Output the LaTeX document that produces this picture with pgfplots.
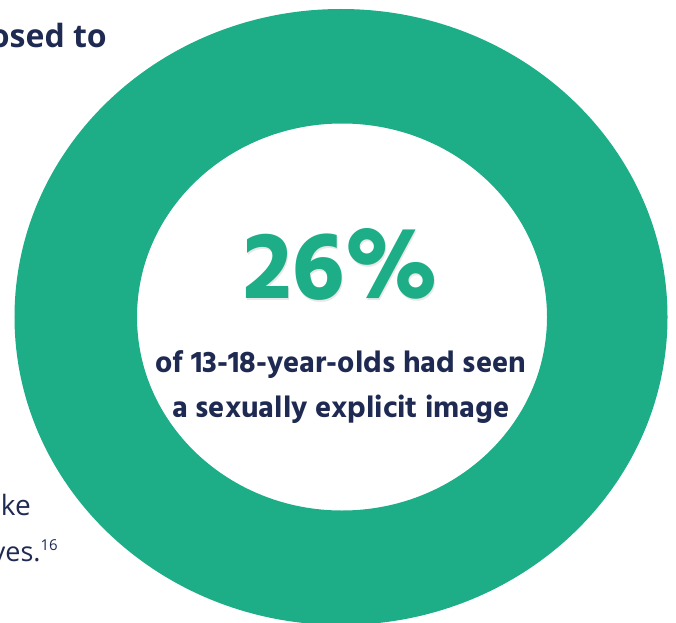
\documentclass[border=0pt]{standalone}
\usepackage{fontspec}
\usepackage{pgfplots}
\pgfplotsset{compat=1.18}
\setmainfont{Open Sans}
\newfontfamily\hind{Hind Siliguri}[BoldFont={* Bold}]
\definecolor{ringgreen}{HTML}{1DAE87}
\definecolor{navy}{HTML}{1F2A52}
\begin{document}
\begin{tikzpicture}
\path[use as bounding box, clip] (0,0) rectangle (676bp,623bp);
\begin{axis}[at={(0,0)}, anchor=south west, width=676bp, height=623bp,
  scale only axis, hide axis, xmin=0, xmax=676, ymin=0, ymax=623,
  y dir=reverse, clip=false]
\fill[ringgreen, even odd rule] (axis cs:341,317) ellipse [x radius=326.5, y radius=308]
      (axis cs:342,317) ellipse [x radius=205, y radius=193.5];
\node[anchor=base, text=black!9, font=\hind\bfseries\fontsize{97bp}{97bp}\selectfont] at (axis cs:342.5,300) {26\%};
\node[anchor=base, text=ringgreen, font=\hind\bfseries\fontsize{97bp}{97bp}\selectfont] at (axis cs:341,298) {26\%};
\node[anchor=base, text=navy, font=\hind\bfseries\fontsize{30.5bp}{30.5bp}\selectfont] at (axis cs:341,372) {of 13-18-year-olds had seen};
\node[anchor=base, text=navy, font=\hind\bfseries\fontsize{30.5bp}{30.5bp}\selectfont] at (axis cs:341,417) {a sexually explicit image};
\node[anchor=base east, inner sep=0, text=navy, font=\bfseries\fontsize{32bp}{32bp}\selectfont] at (axis cs:107,48) {exposed to};
\node[anchor=base east, inner sep=0, text=navy, font=\fontsize{28bp}{28bp}\selectfont] at (axis cs:31,515) {like};
\node[anchor=base east, inner sep=0, text=navy, font=\fontsize{27bp}{27bp}\selectfont] at (axis cs:58,561) {themselves.\raisebox{11bp}{\fontsize{15bp}{15bp}\selectfont 16}};
\end{axis}
\end{tikzpicture}
\end{document}
